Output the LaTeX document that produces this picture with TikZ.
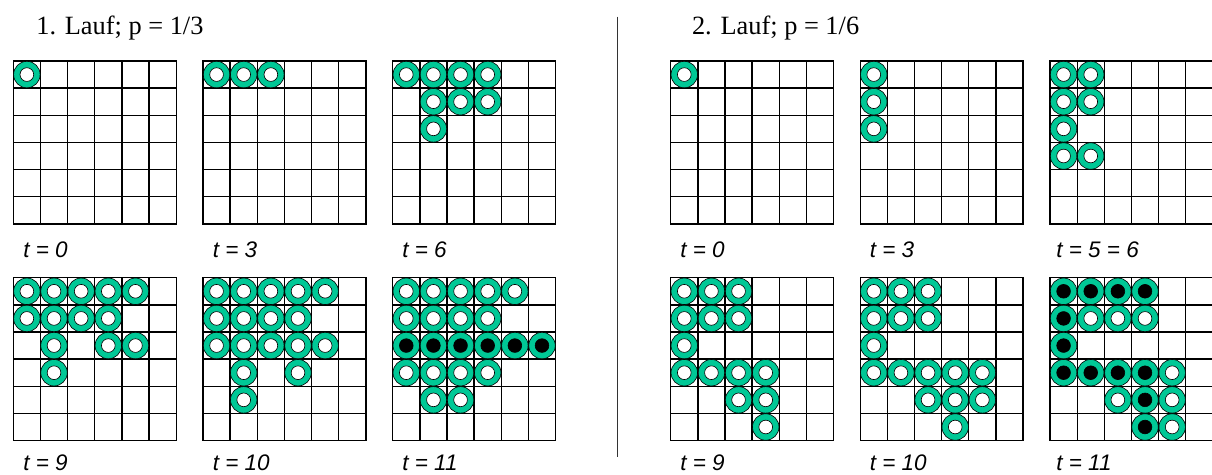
\documentclass[tikz,border=0pt]{standalone}
\usepackage{fontspec}
\setmainfont{Liberation Serif}
\setsansfont{Liberation Sans}
\usepackage{tikz}
\usetikzlibrary{positioning}
\definecolor{ringTeal}{HTML}{00C896}

\tikzset{
  gridline/.style={line width=0.75pt, black},
  cellunits/.style={x=0.543cm, y=-0.543cm},
  ring/.style={fill=ringTeal, draw=black, line width=0.35pt},
  hole/.style={fill=white, draw=black, line width=0.35pt},
  fullhole/.style={fill=black, draw=black, line width=0.35pt},
  runtitle/.style={font=\fontsize{15}{18}\selectfont, anchor=base west, inner sep=0pt},
  steplabel/.style={font=\sffamily\itshape\fontsize{12.8}{15}\selectfont, anchor=west, inner sep=0pt}
}
% 6x6 lattice in cell units
\newcommand{\lattice}{%
  \foreach \i in {0,...,6} {
    \draw[gridline] (\i,0) -- (\i,6);
    \draw[gridline] (0,\i) -- (6,\i);
  }
  \draw[gridline, line cap=rect] (0,0) rectangle (6,6);
}
% one occupied cell: \person[hole style]{row}{col}
\newcommand{\person}[3][hole]{%
  \draw[ring] (#3+0.5,#2+0.5) circle[radius=0.265cm];
  \draw[#1] (#3+0.5,#2+0.5) circle[radius=0.137cm];
}

\begin{document}
\begin{tikzpicture}[x=0.02cm, y=-0.02cm]
  \useasboundingbox (0,0) rectangle (1212,474);
  % ---- (1) first run ----
  \node[runtitle] (title1) at (36,34.3) {1. Lauf; p = 1/3};
  \begin{scope}[shift={(13.3,61)}, cellunits]
    \lattice
    \person{0}{0}
  \end{scope}
  \begin{scope}[shift={(203.0,61)}, cellunits]
    \lattice
    \foreach \c in {0,1,2} {\person{0}{\c}}
  \end{scope}
  \begin{scope}[shift={(392.7,61)}, cellunits]
    \lattice
    \foreach \r/\c in {0/0,0/1,0/2,0/3,1/1,1/2,1/3,2/1} {\person{\r}{\c}}
  \end{scope}
  \node[steplabel] (l10) at (23,249.8) {t = 0};
  \node[steplabel] (l13) at (212.5,249.8) {t = 3};
  \node[steplabel] (l16) at (402,249.8) {t = 6};
  \begin{scope}[shift={(13.3,277.7)}, cellunits]
    \lattice
    \foreach \r/\c in {0/0,0/1,0/2,0/3,0/4,1/0,1/1,1/2,1/3,2/1,2/3,2/4,3/1}
      {\person{\r}{\c}}
  \end{scope}
  \begin{scope}[shift={(203.0,277.7)}, cellunits]
    \lattice
    \foreach \r/\c in {0/0,0/1,0/2,0/3,0/4,1/0,1/1,1/2,1/3,
                       2/0,2/1,2/2,2/3,2/4,3/1,3/3,4/1}
      {\person{\r}{\c}}
  \end{scope}
  \begin{scope}[shift={(392.7,277.7)}, cellunits]
    \lattice
    \foreach \r/\c in {0/0,0/1,0/2,0/3,0/4,1/0,1/1,1/2,1/3,
                       3/0,3/1,3/2,3/3,4/1,4/2}
      {\person{\r}{\c}}
    \foreach \c in {0,...,5} {\person[fullhole]{2}{\c}}
  \end{scope}
  \node[steplabel] (l19) at (23,463) {t = 9};
  \node[steplabel] (l110) at (212.5,463) {t = 10};
  \node[steplabel] (l111) at (402,463) {t = 11};
  % ---- divider ----
  \coordinate (divtop) at (617,16.7);
  \coordinate (divbot) at (617,456.7);
  \draw[line width=0.45pt, black!80] (divtop) -- (divbot);
  % ---- (2) second run ----
  \node[runtitle] (title2) at (691.7,34.3) {2. Lauf; p = 1/6};
  \begin{scope}[shift={(670.7,61)}, cellunits]
    \lattice
    \person{0}{0}
  \end{scope}
  \begin{scope}[shift={(860.2,61)}, cellunits]
    \lattice
    \foreach \r in {0,1,2} {\person{\r}{0}}
  \end{scope}
  \begin{scope}[shift={(1050,61)}, cellunits]
    \lattice
    \foreach \r/\c in {0/0,0/1,1/0,1/1,2/0,3/0,3/1} {\person{\r}{\c}}
  \end{scope}
  \node[steplabel] (l20) at (680,249.8) {t = 0};
  \node[steplabel] (l23) at (869.5,249.8) {t = 3};
  \node[steplabel] (l26) at (1056,249.8) {t = 5 = 6};
  \begin{scope}[shift={(670.7,277.7)}, cellunits]
    \lattice
    \foreach \r/\c in {0/0,0/1,0/2,1/0,1/1,1/2,2/0,3/0,3/1,3/2,3/3,
                       4/2,4/3,5/3}
      {\person{\r}{\c}}
  \end{scope}
  \begin{scope}[shift={(860.2,277.7)}, cellunits]
    \lattice
    \foreach \r/\c in {0/0,0/1,0/2,1/0,1/1,1/2,2/0,3/0,3/1,3/2,3/3,3/4,
                       4/2,4/3,4/4,5/3}
      {\person{\r}{\c}}
  \end{scope}
  \begin{scope}[shift={(1050,277.7)}, cellunits]
    \lattice
    \foreach \r/\c in {1/1,1/2,1/3,3/4,4/2,4/4,5/4} {\person{\r}{\c}}
    \foreach \r/\c in {0/0,0/1,0/2,0/3,1/0,2/0,3/0,3/1,3/2,3/3,4/3,5/3}
      {\person[fullhole]{\r}{\c}}
  \end{scope}
  \node[steplabel] (l29) at (680,463) {t = 9};
  \node[steplabel] (l210) at (869.5,463) {t = 10};
  \node[steplabel] (l211) at (1056,463) {t = 11};
\end{tikzpicture}
\end{document}
